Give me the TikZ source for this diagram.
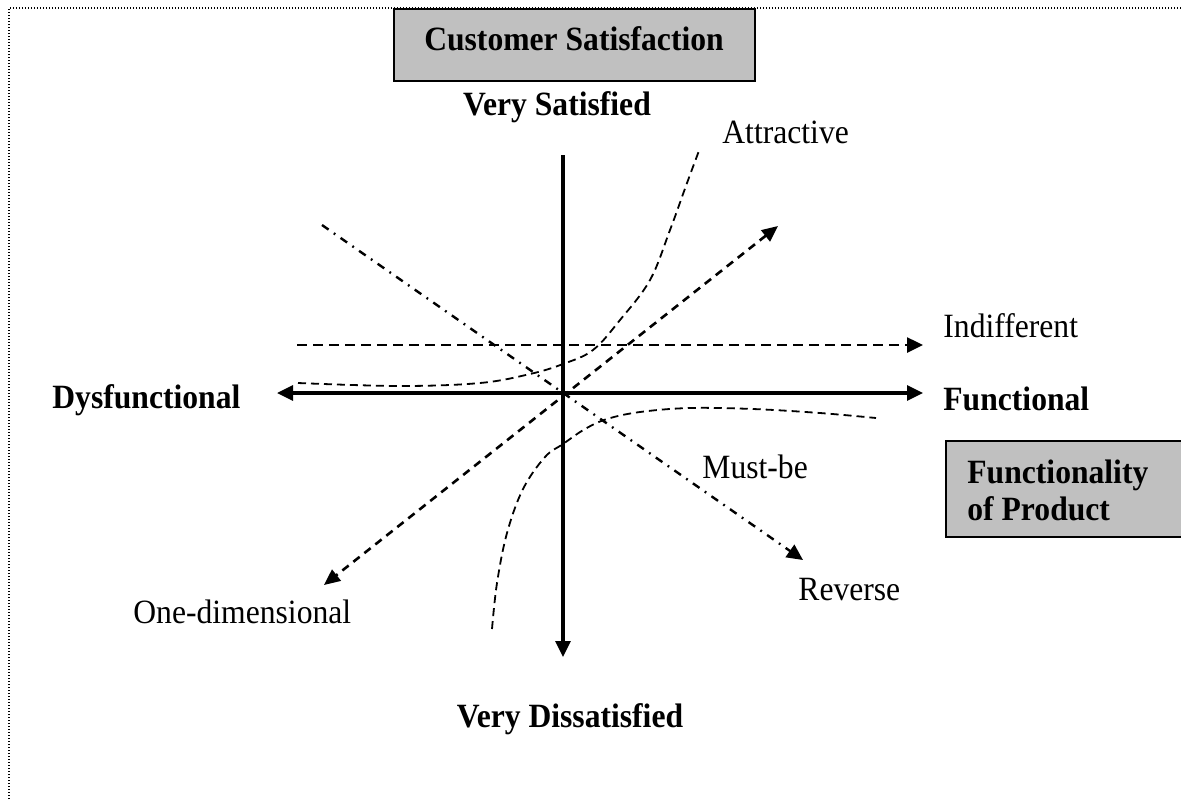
\documentclass[tikz,border=0pt]{standalone}
\usepackage{fontspec}
\setmainfont[FakeStretch=0.93]{Liberation Serif}
\usetikzlibrary{arrows.meta}
\definecolor{boxgray}{HTML}{C0C0C0}
\tikzset{
  lbl/.style={font=\fontsize{17}{20}\selectfont, inner sep=0pt},
  blbl/.style={font=\fontsize{17}{20}\selectfont\bfseries, inner sep=0pt},
  tip/.style={-{Triangle[length=8pt,width=7.5pt]}},
  axisline/.style={line width=1.6pt},
  longdash/.style={line width=1.25pt, dash pattern=on 5pt off 3pt},
  diagdash/.style={line width=1.3pt, dash pattern=on 4pt off 3pt},
  curvedash/.style={line width=0.9pt, dash pattern=on 4pt off 2.5pt},
  dashdot/.style={line width=1.2pt, dash pattern=on 4pt off 3.2pt on 0.9pt off 3.2pt},
  framedots/.style={line width=0.6pt, dash pattern=on 0.6pt off 0.9pt},
  graybox/.style={draw=black, fill=boxgray, line width=1.3pt}
}
\begin{document}
\begin{tikzpicture}[x=0.5pt,y=-0.5pt]
  \useasboundingbox (0,0) rectangle (1181,799);

  % dotted frame
  \coordinate (fbl) at (9,799);
  \coordinate (ftl) at (9,8);
  \coordinate (ftr) at (1181,8);
  \draw[framedots] (fbl) -- (ftl) -- (ftr);

  % title boxes
  \draw[graybox] (394,9) rectangle (755,81);
  \node[blbl, anchor=base] (cs) at (574,50) {Customer Satisfaction};
  \draw[graybox] (946,441) rectangle (1200,537);
  \node[blbl, anchor=base west] (fp1) at (967,483) {Functionality};
  \node[blbl, anchor=base west] (fp2) at (967,520) {of Product};

  % axis labels
  \node[blbl, anchor=base] (vs) at (557,115) {Very Satisfied};
  \node[blbl, anchor=base] (vd) at (570,727) {Very Dissatisfied};
  \node[blbl, anchor=base west] (fn) at (943,410) {Functional};
  \node[blbl, anchor=base west] (dy) at (52,408) {Dysfunctional};

  % category labels
  \node[lbl, anchor=base west] (at) at (722,143) {Attractive};
  \node[lbl, anchor=base west] (id) at (943,337) {Indifferent};
  \node[lbl, anchor=base west] (mb) at (702,478) {Must-be};
  \node[lbl, anchor=base west] (rv) at (798,600) {Reverse};
  \node[lbl, anchor=base west] (od) at (133,623) {One-dimensional};

  % axes
  \coordinate (vtop) at (563,155);
  \coordinate (vbot) at (563,657);
  \coordinate (hleft) at (277,393);
  \coordinate (hright) at (923,393);
  \draw[axisline, tip] (vtop) -- (vbot);
  \draw[axisline, {Triangle[length=8pt,width=7.5pt]}-{Triangle[length=8pt,width=7.5pt]}] (hleft) -- (hright);

  % indifferent
  \coordinate (in1) at (297,345);
  \coordinate (in2) at (923,345);
  \draw[longdash, tip] (in1) -- (in2);

  % one-dimensional
  \coordinate (od1) at (778,226);
  \coordinate (od2) at (324,585);
  \draw[diagdash, {Triangle[length=8pt,width=7pt]}-{Triangle[length=8pt,width=7pt]}] (od1) -- (od2);

  % reverse
  \coordinate (rv1) at (322,225);
  \coordinate (rv2) at (803,560);
  \draw[dashdot, tip] (rv1) -- (rv2);

  % attractive curve
  \draw[curvedash] plot[smooth, tension=0.6] coordinates {
    (298,383) (400,386) (480,383) (530,374) (563,364) (593,350)
    (620,320) (650,280) (670,230) (687,183) (700,148)};

  % must-be curve
  \draw[curvedash] plot[smooth, tension=0.6] coordinates {
    (492,629) (497,583) (507,533) (523,489) (545,457) (563,444)
    (585,429) (607,419) (640,412) (690,408) (753,409) (820,413) (876,418)};
\end{tikzpicture}
\end{document}
